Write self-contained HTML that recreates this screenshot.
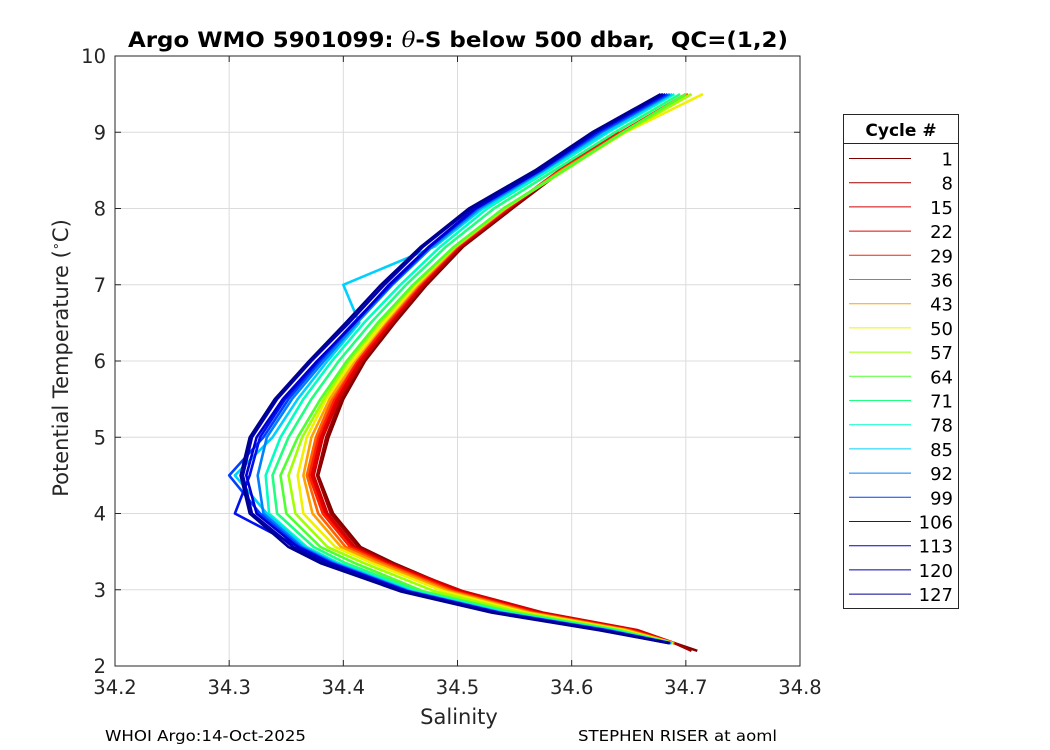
<!DOCTYPE html>
<html><head><meta charset="utf-8"><style>
html,body{margin:0;padding:0;background:#fff;}
svg{display:block;font-family:"DejaVu Sans","Liberation Sans",sans-serif;}
</style></head><body>
<svg id="chart" width="1050" height="750" viewBox="0 0 1050 750">
<rect width="1050" height="750" fill="#fff"/>
<g id="grid"></g>
<g id="lines"></g>
<rect x="115" y="56" width="685" height="610" fill="none" stroke="#262626" stroke-width="1"/>
<g id="ticks"></g>
<text x="128" y="47" textLength="660" lengthAdjust="spacingAndGlyphs" font-size="21" font-weight="bold" fill="#000" xml:space="preserve">Argo WMO 5901099: <tspan font-style="italic" font-family="DejaVu Serif,serif" font-weight="normal">θ</tspan>-S below 500 dbar,  QC=(1,2)</text>
<text x="459" y="724" text-anchor="middle" font-size="21" fill="#262626">Salinity</text>
<text transform="translate(68,358) rotate(-90)" text-anchor="middle" font-size="21" fill="#262626">Potential Temperature (<tspan dy="-8" font-size="13">∘</tspan><tspan dy="8">C)</tspan></text>
<text x="105" y="741" textLength="201" lengthAdjust="spacingAndGlyphs" font-size="15" fill="#000">WHOI Argo:14-Oct-2025</text>
<text x="578" y="741" textLength="199" lengthAdjust="spacingAndGlyphs" font-size="15" fill="#000">STEPHEN RISER at aoml</text>
<g id="legend"></g>
</svg>
<script>
const tempLevels=[2.2,2.3,2.47,2.7,2.98,3.35,3.56,4.0,4.5,5.0,5.5,6.0,6.5,7.0,7.5,8.0,8.5,9.0,9.5];
const cycles=[1,8,15,22,29,36,43,50,57,64,71,78,85,92,99,106,113,120,127];
const colors=["#800000","#a00000","#d00000","#e80000","#ff2000","#ff6000","#ffa000","#f0f000","#a0ff00","#50ff30","#20ff80","#00ffc0","#00d0ff","#0080ff","#0040ff","#0010f0","#0000d0","#0000b0","#000090"];
const salinity=[
[34.71,34.69,34.657,34.572,34.502,34.444,34.415,34.391,34.378,34.387,34.400,34.419,34.445,34.473,34.505,34.548,34.592,34.64,null],
[34.705,34.69,34.655,34.570,34.500,34.442,34.413,34.389,34.377,34.385,34.398,34.417,34.443,34.471,34.503,34.546,34.590,34.638,null],
[null,34.69,34.658,34.575,34.505,34.440,34.410,34.386,34.374,34.382,34.396,34.416,34.442,34.470,34.502,34.545,34.590,34.640,null],
[null,34.69,34.654,34.570,34.500,34.438,34.408,34.384,34.372,34.380,34.394,34.414,34.440,34.468,34.500,34.544,34.589,34.642,null],
[null,34.69,34.652,34.568,34.498,34.436,34.406,34.382,34.370,34.378,34.392,34.412,34.439,34.467,34.500,34.543,34.590,34.643,34.700],
[null,34.69,34.650,34.565,34.495,34.434,34.402,34.378,34.368,34.376,34.390,34.410,34.437,34.466,34.499,34.542,34.591,34.645,34.702],
[null,34.689,34.648,34.563,34.492,34.430,34.398,34.373,34.365,34.372,34.388,34.410,34.436,34.465,34.499,34.542,34.592,34.646,34.705],
[null,34.689,34.646,34.560,34.488,34.425,34.393,34.365,34.360,34.368,34.385,34.408,34.435,34.464,34.498,34.541,34.593,34.647,34.715],
[null,34.688,34.643,34.556,34.480,34.418,34.386,34.358,34.352,34.364,34.383,34.405,34.432,34.462,34.498,34.541,34.594,34.646,34.705],
[null,34.688,34.640,34.550,34.470,34.410,34.380,34.350,34.345,34.360,34.380,34.403,34.430,34.461,34.497,34.540,34.593,34.645,34.700],
[null,34.688,34.637,34.546,34.466,34.402,34.374,34.342,34.338,34.352,34.372,34.396,34.424,34.455,34.490,34.532,34.585,34.638,34.695],
[null,34.687,34.635,34.542,34.462,34.396,34.368,34.335,34.332,34.345,34.365,34.390,34.418,34.450,34.485,34.526,34.580,34.632,34.690],
[null,34.687,34.633,34.540,34.460,34.394,34.366,34.333,34.305,34.338,34.360,34.386,34.414,34.400,34.480,34.522,34.576,34.630,34.688],
[null,34.687,34.632,34.538,34.458,34.392,34.364,34.330,34.325,34.333,34.355,34.383,34.412,34.443,34.478,34.519,34.575,34.626,34.686],
[null,34.686,34.630,34.537,34.457,34.390,34.362,34.327,34.300,34.330,34.352,34.380,34.410,34.442,34.476,34.517,34.573,34.624,34.684],
[null,34.686,34.629,34.536,34.456,34.389,34.361,34.305,34.318,34.327,34.349,34.378,34.409,34.441,34.476,34.516,34.572,34.622,34.682],
[null,34.686,34.628,34.535,34.455,34.388,34.360,34.324,34.315,34.324,34.347,34.377,34.410,34.440,34.475,34.515,34.572,34.620,34.680],
[null,34.685,34.626,34.533,34.452,34.384,34.356,34.320,34.312,34.320,34.342,34.372,34.405,34.436,34.470,34.512,34.570,34.619,34.680],
[null,34.685,34.624,34.530,34.450,34.380,34.352,34.318,34.310,34.318,34.340,34.370,34.402,34.433,34.468,34.510,34.568,34.618,34.678]
];
const xTicks=[34.2,34.3,34.4,34.5,34.6,34.7,34.8];
const yTicks=[2,3,4,5,6,7,8,9,10];
const X0=115,X1=800,Y0=666,Y1=56;
const sx=v=>X0+(v-34.2)/(34.8-34.2)*(X1-X0);
const sy=v=>Y0-(v-2)/(10-2)*(Y0-Y1);
const NS="http://www.w3.org/2000/svg";
const mk=(t,a,p)=>{const e=document.createElementNS(NS,t);for(const k in a)e.setAttribute(k,a[k]);p.appendChild(e);return e;};
const grid=document.getElementById('grid'),ticks=document.getElementById('ticks');
xTicks.forEach(v=>{const x=sx(v);
 const g=mk('line',{x1:x,x2:x,y1:Y1,y2:Y0,stroke:'#dcdcdc','stroke-width':1},grid);
 
 
 mk('line',{x1:x,x2:x,y1:Y0,y2:Y0-6,stroke:'#262626'},ticks);
 mk('line',{x1:x,x2:x,y1:Y1,y2:Y1+6,stroke:'#262626'},ticks);
 const t=mk('text',{x:x,y:Y0+28,'text-anchor':'middle','font-size':19.5,fill:'#262626'},ticks);
 t.textContent=v.toFixed(1);
 
 
});
yTicks.forEach(v=>{const y=sy(v);
 const g=mk('line',{x1:X0,x2:X1,y1:y,y2:y,stroke:'#dcdcdc','stroke-width':1},grid);
 
 
 mk('line',{x1:X0,x2:X0+6,y1:y,y2:y,stroke:'#262626'},ticks);
 mk('line',{x1:X1,x2:X1-6,y1:y,y2:y,stroke:'#262626'},ticks);
 const t=mk('text',{x:X0-9,y:y+7,'text-anchor':'end','font-size':19.5,fill:'#262626'},ticks);
 t.textContent=String(v);
 
 
});
const lines=document.getElementById('lines');
salinity.forEach((prof,i)=>{
 const pts=[];prof.forEach((s,j)=>{if(s!==null)pts.push(sx(s).toFixed(1)+','+sy(tempLevels[j]).toFixed(1));});
 const pl=mk('polyline',{points:pts.join(' '),fill:'none',stroke:colors[i],'stroke-width':2.6,'stroke-linejoin':'round'},lines);
 
 
});
const lg=document.getElementById('legend');
const box=mk('rect',{x:843.5,y:114.5,width:115,height:494,fill:'#fff',stroke:'#262626'},lg);


mk('line',{x1:843.5,x2:958.5,y1:143.5,y2:143.5,stroke:'#262626'},lg);
const lt=mk('text',{x:901,y:136,'text-anchor':'middle','font-size':17,'font-weight':'bold'},lg);
lt.textContent='Cycle #';


cycles.forEach((c,i)=>{const y=158.5+i*24.2;
 const l=mk('line',{x1:849,x2:911,y1:y,y2:y,stroke:colors[i],'stroke-width':1},lg);
 
 
 const t=mk('text',{x:953,y:y+7,'text-anchor':'end','font-size':18,fill:'#000'},lg);
 t.textContent=String(c);
 
 
});
</script>
</body></html>
